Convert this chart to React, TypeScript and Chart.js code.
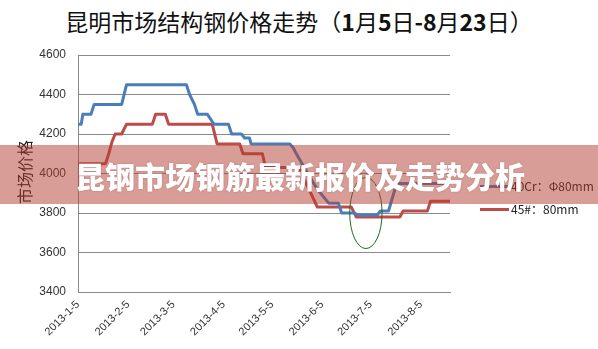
import { useEffect, useRef } from "react";
import { Chart, registerables } from "chart.js";

Chart.register(...registerables);

// Axis range and tick labels
const startDate = "2013-01-05";
const endDate = "2013-08-23";
const tickDates = ["2013-1-5", "2013-2-5", "2013-3-5", "2013-4-5", "2013-5-5", "2013-6-5", "2013-7-5", "2013-8-5"];
const yMin = 3400;
const yMax = 4600;
const yStep = 200;

// 40Cr：Φ80mm price change points
const cr40Dates = [
  "2013-01-05", "2013-01-07", "2013-01-08", "2013-01-13", "2013-01-15", "2013-02-01", "2013-02-04",
  "2013-03-13", "2013-03-15", "2013-03-18", "2013-03-20", "2013-03-26", "2013-03-30", "2013-04-08",
  "2013-04-10", "2013-04-16", "2013-04-18", "2013-04-21", "2013-04-22", "2013-05-16", "2013-05-18",
  "2013-05-20", "2013-05-27", "2013-06-02", "2013-06-09", "2013-06-15", "2013-06-17", "2013-06-25",
  "2013-06-27", "2013-07-09", "2013-07-11", "2013-07-16", "2013-07-21", "2013-08-23",
];
const cr40Values = [
  4250, 4250, 4300, 4300, 4350, 4350, 4450,
  4450, 4400, 4350, 4300, 4300, 4250, 4250,
  4200, 4200, 4180, 4180, 4150, 4150, 4130,
  4100, 4000, 3920, 3850, 3850, 3800, 3800,
  3790, 3790, 3810, 3810, 3950, 3950,
];

// 45#：80mm price change points
const s45Dates = [
  "2013-01-05", "2013-01-22", "2013-01-24", "2013-01-26", "2013-01-28", "2013-02-01", "2013-02-04",
  "2013-02-20", "2013-02-22", "2013-02-28", "2013-03-02", "2013-03-29", "2013-04-01", "2013-04-15",
  "2013-04-17", "2013-04-29", "2013-05-01", "2013-05-22", "2013-05-26", "2013-05-29", "2013-06-02",
  "2013-06-23", "2013-06-26", "2013-07-23", "2013-07-25", "2013-08-09", "2013-08-11", "2013-08-23",
];
const s45Values = [
  4050, 4050, 4100, 4160, 4200, 4200, 4250,
  4250, 4300, 4300, 4250, 4250, 4150, 4150,
  4100, 4100, 4030, 4030, 3950, 3900, 3830,
  3830, 3780, 3780, 3810, 3810, 3860, 3860,
];

// Highlight ring around the early-July low
const ringCenterDate = "2013-07-02";
const ringCenterValue = 3800;
const ringHalfDays = 10;
const ringHalfValue = 180;

const title = "昆明市场结构钢价格走势";
const titleRange = ["（", "1", "月", "5", "日", "-8", "月", "23", "日", "）"];
const yTitle = "市场价格";
const bannerText = "昆钢市场钢筋最新报价及走势分析";
const legendCr40 = "40Cr：Φ80mm";
const legend45 = "45#：80mm";

const BLUE = "#4a7ebb";
const RED = "#be4b48";

function dayOf(s: string): number {
  const [y, m, d] = s.split("-").map(Number);
  const [y0, m0, d0] = startDate.split("-").map(Number);
  return (Date.UTC(y, m - 1, d) - Date.UTC(y0, m0 - 1, d0)) / 86400000;
}

const ringPlugin = {
  id: "ring",
  afterDatasetsDraw(chart: any) {
    const xs = chart.scales.x;
    const ys = chart.scales.y;
    const cd = dayOf(ringCenterDate);
    const cx = xs.getPixelForValue(cd);
    const cy = ys.getPixelForValue(ringCenterValue);
    const rx = Math.abs(xs.getPixelForValue(cd + ringHalfDays) - cx);
    const ry = Math.abs(ys.getPixelForValue(ringCenterValue + ringHalfValue) - cy);
    const ctx = chart.ctx;
    ctx.save();
    ctx.beginPath();
    ctx.ellipse(cx, cy, rx, ry, 0, 0, Math.PI * 2);
    ctx.strokeStyle = "#1f6a1f";
    ctx.lineWidth = 1;
    ctx.stroke();
    ctx.restore();
  },
};

export default function App() {
  const ref = useRef<HTMLCanvasElement | null>(null);

  useEffect(() => {
    if (!ref.current) return;
    const chart = new Chart(ref.current, {
      type: "line",
      data: {
        datasets: [
          {
            label: legendCr40,
            data: cr40Dates.map((d, i) => ({ x: dayOf(d), y: cr40Values[i] })),
            borderColor: BLUE,
            borderWidth: 3,
            pointRadius: 0,
            borderJoinStyle: "round",
            borderCapStyle: "round",
            tension: 0,
          },
          {
            label: legend45,
            data: s45Dates.map((d, i) => ({ x: dayOf(d), y: s45Values[i] })),
            borderColor: RED,
            borderWidth: 3,
            pointRadius: 0,
            borderJoinStyle: "round",
            borderCapStyle: "round",
            tension: 0,
          },
        ],
      },
      options: {
        animation: false,
        responsive: false,
        events: [],
        layout: { padding: { left: 0, right: 148, top: 55, bottom: 0 } },
        plugins: { legend: { display: false }, tooltip: { enabled: false } },
        scales: {
          x: {
            type: "linear",
            min: 0,
            max: dayOf(endDate),
            afterFit: (s: any) => {
              s.height = 57;
            },
            afterBuildTicks: (s: any) => {
              s.ticks = tickDates.map((t) => ({ value: dayOf(t) }));
            },
            grid: { display: false, drawTicks: false },
            border: { display: true, color: "#8a8a8a", width: 1 },
            ticks: {
              autoSkip: false,
              minRotation: 45,
              maxRotation: 45,
              padding: 6,
              color: "#333",
              font: { family: "'Liberation Sans', Arial, sans-serif", size: 11 },
              callback: (v: any) => {
                const i = tickDates.findIndex((t) => dayOf(t) === v);
                return i >= 0 ? tickDates[i] : "";
              },
            },
          },
          y: {
            min: yMin,
            max: yMax,
            afterFit: (s: any) => {
              s.width = 78;
            },
            grid: { color: "#8a8a8a", lineWidth: 1, drawTicks: false },
            border: { display: true, color: "#8a8a8a", width: 1 },
            ticks: {
              stepSize: yStep,
              padding: 12,
              color: "#333",
              font: { family: "'Liberation Sans', Arial, sans-serif", size: 12 },
              callback: (v: any) => String(v),
            },
          },
        },
      },
      plugins: [ringPlugin],
    });
    return () => chart.destroy();
  }, []);

  const cjk = "'Noto Sans CJK SC', 'Noto Sans', sans-serif";

  return (
    <div
      style={{
        position: "absolute",
        left: 0,
        top: 0,
        width: 598,
        height: 349,
        background: "#fff",
        overflow: "hidden",
      }}
    >
      <div
        style={{
          position: "absolute",
          left: 0,
          top: 7,
          width: 598,
          textAlign: "center",
          fontFamily: cjk,
          fontSize: 23,
          lineHeight: "28px",
          color: "#111",
          whiteSpace: "nowrap",
        }}
      >
        {title}
        {titleRange.map((p, i) => (
          <span key={i} style={{ fontWeight: /[0-9-]/.test(p) ? 700 : 400 }}>
            {p}
          </span>
        ))}
      </div>
      <canvas
        ref={ref}
        width={598}
        height={349}
        style={{ position: "absolute", left: 0, top: 0, width: 598, height: 349 }}
      />
      <div
        style={{
          position: "absolute",
          left: 24 - 40,
          top: 172 - 10,
          width: 80,
          height: 20,
          lineHeight: "20px",
          textAlign: "center",
          transform: "rotate(-90deg)",
          fontFamily: cjk,
          fontSize: 16,
          color: "#222",
        }}
      >
        {yTitle}
      </div>
      {[
        { label: legendCr40, color: BLUE, y: 186 },
        { label: legend45, color: RED, y: 209 },
      ].map((l) => (
        <div key={l.label}>
          <div
            style={{
              position: "absolute",
              left: 480,
              top: l.y - 1.5,
              width: 29,
              height: 3,
              background: l.color,
            }}
          />
          <div
            style={{
              position: "absolute",
              left: 511,
              top: l.y - 8,
              height: 16,
              lineHeight: "16px",
              fontFamily: cjk,
              fontSize: 12,
              color: "#222",
              whiteSpace: "nowrap",
            }}
          >
            {l.label}
          </div>
        </div>
      ))}
      <div
        style={{
          position: "absolute",
          left: 0,
          top: 145,
          width: 598,
          height: 59,
          background: "rgba(180, 60, 50, 0.5)",
        }}
      />
      <div
        style={{
          position: "absolute",
          left: 75,
          top: 159,
          lineHeight: "32px",
          fontFamily: cjk,
          fontSize: 30,
          fontWeight: 900,
          color: "#fff",
          whiteSpace: "nowrap",
          textShadow: "0 0 2px rgba(110, 40, 30, 0.35)",
        }}
      >
        {bannerText}
      </div>
    </div>
  );
}
